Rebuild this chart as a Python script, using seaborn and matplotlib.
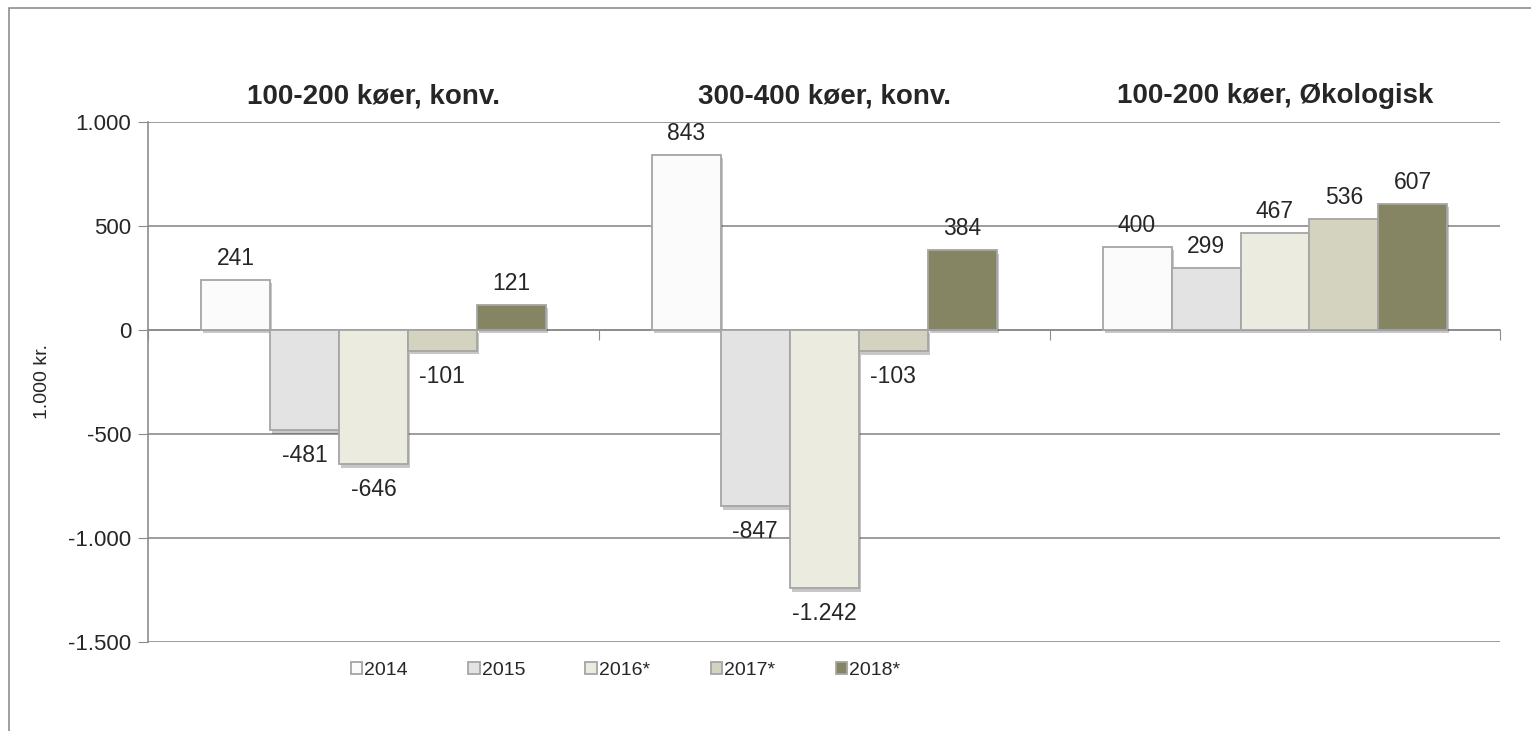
import pandas as pd
import numpy as np
import matplotlib
matplotlib.use('Agg')
import matplotlib.pyplot as plt
import matplotlib.patheffects as pe
import seaborn as sns
from matplotlib.patches import Rectangle
from matplotlib.ticker import FuncFormatter

# Data (1.000 kr.)
groups = ['100-200 køer, konv.', '300-400 køer, konv.', '100-200 køer, Økologisk']
years = ['2014', '2015', '2016*', '2017*', '2018*']
v2014 = [241, 843, 400]
v2015 = [-481, -847, 299]
v2016 = [-646, -1242, 467]
v2017 = [-101, -103, 536]
v2018 = [121, 384, 607]
colors = ['#FBFBFB', '#E3E3E3', '#ECEBE0', '#D4D3C0', '#858463']

rows = []
for year, vals in zip(years, [v2014, v2015, v2016, v2017, v2018]):
    for g, v in zip(groups, vals):
        rows.append({'gruppe': g, 'aar': year, 'værdi': v})
df = pd.DataFrame(rows)


def dk(x, pos=None):
    return f'{int(x):,}'.replace(',', '.')


sns.set_style('white')
plt.rcParams['font.family'] = ['Liberation Sans', 'DejaVu Sans']

fig = plt.figure(figsize=(15.31, 7.31), dpi=100)
ax = fig.add_axes([0.0967, 0.1218, 0.8833, 0.7113])

sns.barplot(data=df, x='gruppe', y='værdi', hue='aar', hue_order=years,
            palette=colors, width=0.765, edgecolor='#A5A5A5', linewidth=1.3,
            saturation=1, ax=ax, zorder=3)

# soft shadow under the bars, like the bevelled Excel look
shadow = [pe.SimplePatchShadow(offset=(1.5, -2.5), shadow_rgbFace='#000000', alpha=0.22),
          pe.Normal()]
for cont in ax.containers:
    for bar in cont:
        bar.set_path_effects(shadow)

# value labels, above positive bars and below negative ones
for cont in ax.containers:
    for bar, v in zip(cont, cont.datavalues):
        x = bar.get_x() + bar.get_width() / 2
        if v >= 0:
            ax.annotate(dk(v), (x, v), xytext=(0, 7), textcoords='offset points',
                        ha='center', va='bottom', fontsize=16.5)
        else:
            ax.annotate(dk(v), (x, v), xytext=(0, -10), textcoords='offset points',
                        ha='center', va='top', fontsize=16.5)

ax.set_ylim(-1500, 1000)
ax.set_yticks(np.arange(-1500, 1001, 500))
ax.yaxis.set_major_formatter(FuncFormatter(dk))
ax.set_xlim(-0.5, 2.5)
ax.yaxis.grid(True, color='#8C8C8C', linewidth=1.2, zorder=0)
ax.tick_params(axis='y', labelsize=16, length=7, color='#8C8C8C', left=True, pad=5)
ax.set_ylabel('1.000 kr.', fontsize=14)
ax.yaxis.set_label_coords(-0.072, 0.5)
ax.set_xlabel('')

# x axis on the zero line with small ticks between groups
for s in ['top', 'right']:
    ax.spines[s].set_visible(False)
ax.spines['left'].set_color('#8C8C8C')
ax.spines['left'].set_linewidth(1.2)
ax.spines['bottom'].set_position(('data', 0))
ax.spines['bottom'].set_color('#8C8C8C')
ax.spines['bottom'].set_linewidth(1.2)
ax.set_xticks([-0.5, 0.5, 1.5, 2.5])
ax.set_xticklabels([])
ax.tick_params(axis='x', length=7, color='#8C8C8C', bottom=True, direction='out')

# group titles
for i, g in enumerate(groups):
    ax.text(i, 1090, g, ha='center', va='baseline', fontsize=20, fontweight='bold')

handles, labels = ax.get_legend_handles_labels()
ax.legend(handles, labels, loc='center', bbox_to_anchor=(0.353, -0.055),
          ncol=5, frameon=False, fontsize=14, handlelength=0.6, handleheight=0.6,
          handletextpad=0.1, columnspacing=3.1)

# outer chart border (only top and left edges fall inside the picture)
fig.patches.append(Rectangle((9 / 1531, -0.05), 1.1, 1.05 - 8 / 731,
                             transform=fig.transFigure, fill=False,
                             edgecolor='#8F8F8F', linewidth=1.2))

fig.savefig('out.png', dpi=100, facecolor='white')
